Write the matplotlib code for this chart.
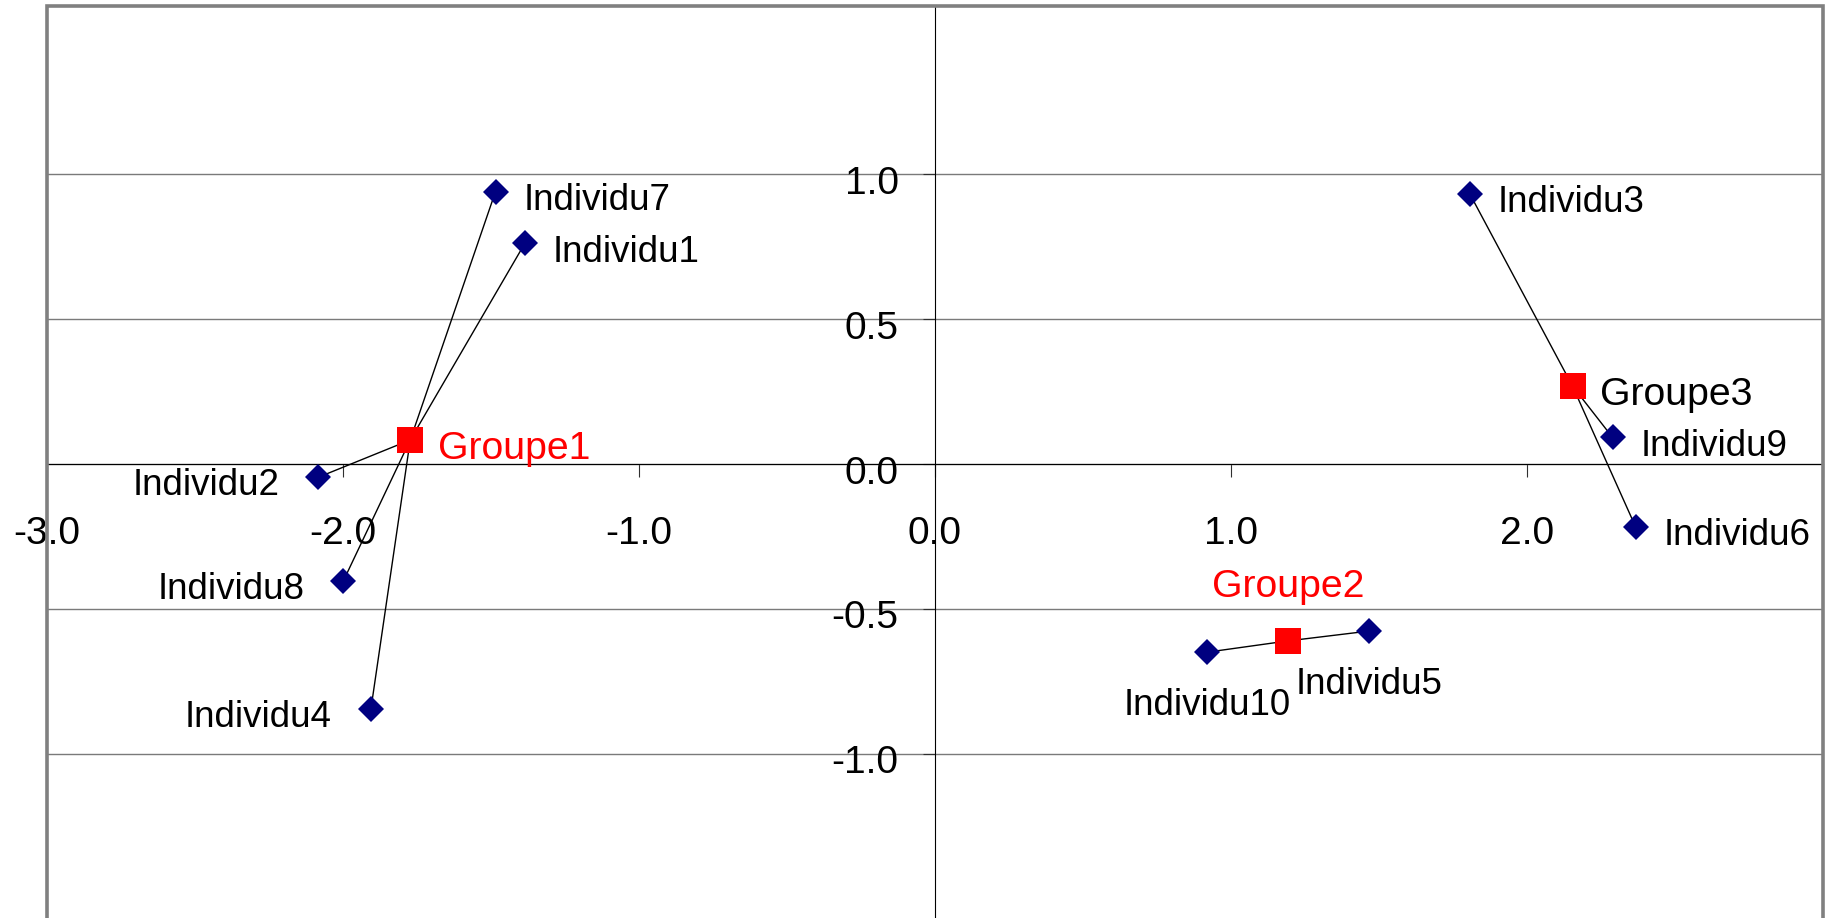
import matplotlib
matplotlib.use("Agg")
import matplotlib.pyplot as plt
from matplotlib.patches import Rectangle
from matplotlib.transforms import ScaledTranslation

plt.rcParams['font.family'] = ['Liberation Sans', 'DejaVu Sans']
plt.rcParams['axes.unicode_minus'] = False

# ---- data ----
individus = ['Individu1', 'Individu2', 'Individu3', 'Individu4', 'Individu5',
             'Individu6', 'Individu7', 'Individu8', 'Individu9', 'Individu10']
ind_x = [-1.385, -2.083, 1.807, -1.905, 1.467, 2.367, -1.484, -1.998, 2.289, 0.920]
ind_y = [0.762, -0.046, 0.933, -0.847, -0.577, -0.217, 0.941, -0.404, 0.092, -0.650]
ind_groupe = [0, 0, 2, 0, 1, 2, 0, 0, 2, 1]

groupes = ['Groupe1', 'Groupe2', 'Groupe3']
grp_x = [-1.772, 1.193, 2.154]
grp_y = [0.083, -0.611, 0.269]
grp_label_colors = ['#FF0000', '#FF0000', 'black']

x_ticks = [-3, -2, -1, 0, 1, 2, 3]
x_ticklabels = ['-3.0', '-2.0', '-1.0', '0.0', '1.0', '2.0', '']
y_ticks = [-1.0, -0.5, 0.0, 0.5, 1.0]
y_ticklabels = ['-1.0', '-0.5', '0.0', '0.5', '1.0']

# label placement style per point
ind_pos = ['right', 'left', 'right', 'left', 'below',
           'right', 'right', 'left', 'right', 'below']
grp_pos = ['right', 'above', 'right']

# ---- figure ----
W, H = 1834, 918
fig = plt.figure(figsize=(W / 100, H / 100), dpi=100)
left_px, right_px, top_px, bottom_px = 46.7, 1823, 6, 922
ax = fig.add_axes([left_px / W, (H - bottom_px) / H,
                   (right_px - left_px) / W, (bottom_px - top_px) / H])
ax.set_xlim(-3, 3)
ax.set_ylim(-1.582, 1.582)

# axes through origin
for s in ['top', 'right']:
    ax.spines[s].set_visible(False)
ax.spines['left'].set_position(('data', 0))
ax.spines['bottom'].set_position(('data', 0))
for s in ['left', 'bottom']:
    ax.spines[s].set_color('black')
    ax.spines[s].set_linewidth(0.8)
    ax.spines[s].set_zorder(2)

# outer gray frame
ax.add_patch(Rectangle((0, 0), 1, 1, transform=ax.transAxes, fill=False,
                       ec='#808080', lw=2.6, clip_on=False, zorder=6))

ax.set_xticks(x_ticks)
ax.set_xticklabels(x_ticklabels)
ax.set_yticks(y_ticks)
ax.set_yticklabels(y_ticklabels)
ax.tick_params(axis='x', direction='out', length=9.4, width=0.8, pad=28,
               labelsize=28, color='#303030')
ax.tick_params(axis='y', direction='out', length=9, width=0.8, pad=17,
               labelsize=28, color='#303030')
for lab in ax.get_yticklabels():
    lab.set_transform(lab.get_transform() +
                      ScaledTranslation(0, -4 / 72, fig.dpi_scale_trans))

ax.yaxis.grid(True, color='#7a7a7a', lw=1.0)
ax.set_axisbelow(True)

# lines from group centre to individuals
for x, y, g in zip(ind_x, ind_y, ind_groupe):
    ax.plot([grp_x[g], x], [grp_y[g], y], color='black', lw=1.0, zorder=3)

ax.plot(ind_x, ind_y, 'D', color='#000080', ms=13, mew=0, zorder=4,
        linestyle='none')
ax.plot(grp_x, grp_y, 's', color='#FF0000', ms=18.5, mew=0, zorder=4,
        linestyle='none')


def place(name, x, y, pos, size, color, cap_pt):
    if pos == 'right':
        off, ha = (20, -3.6 - cap_pt), 'left'
    elif pos == 'left':
        off, ha = (-28, -3.6 - cap_pt), 'right'
    elif pos == 'below':
        off, ha = (0, -35.5 - cap_pt), 'center'
    else:
        off, ha = (0, 42 - cap_pt), 'center'
    ax.annotate(name, (x, y), xytext=off, textcoords='offset points',
                ha=ha, va='baseline', fontsize=size, color=color, zorder=7)


for name, x, y, pos in zip(individus, ind_x, ind_y, ind_pos):
    place(name, x, y, pos, 26.5, 'black', 0.358 * 26.5)
for name, x, y, pos, c in zip(groupes, grp_x, grp_y, grp_pos, grp_label_colors):
    place(name, x, y, pos, 28.3, c, 0.358 * 28.3)

fig.savefig('out.png', dpi=100, facecolor='white')
